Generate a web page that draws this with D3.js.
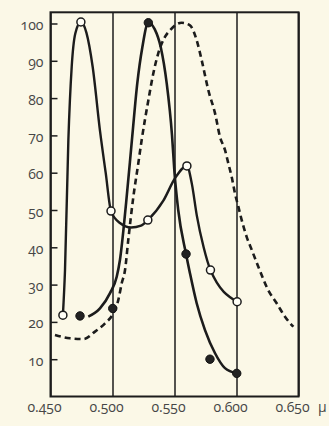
<!DOCTYPE html>
<html>
<head>
<meta charset="utf-8">
<script src="https://cdn.jsdelivr.net/npm/d3@7"></script>
<style>
  html, body { margin: 0; padding: 0; background: #fbf8e7; }
  #chart { position: relative; }
  svg { display: block; position: absolute; left: 0; top: 0; }
  .lab {
    position: absolute;
    font-family: "Open Sans", "Noto Sans", sans-serif;
    font-size: 14px;
    line-height: 1;
    font-variant-numeric: oldstyle-nums;
    font-feature-settings: "onum" 1;
    color: #464646;
    white-space: nowrap;
  }
</style>
</head>
<body>
<div id="chart"></div>
<script>
////////////////////////////////////////////////////////////////
// Data (wavelength in micron, relative value in %)

let xTicks = [0.450, 0.500, 0.550, 0.600, 0.650]
let yTicks = [10, 20, 30, 40, 50, 60, 70, 80, 90, 100]

// open circles and the solid curve drawn through them
let openMarkX = [0.460, 0.4745, 0.4988, 0.5285, 0.560, 0.579, 0.6005]
let openMarkY = [21.8, 100.4, 49.7, 47.3, 61.8, 33.9, 25.4]
let openCurveX = [0.460, 0.4617, 0.4644, 0.4671, 0.4700, 0.4745, 0.4790, 0.4840, 0.4900,
                  0.4945, 0.4988, 0.5060, 0.5150, 0.5230, 0.5285, 0.5410, 0.5504, 0.5600,
                  0.5640, 0.5680, 0.5735, 0.5790, 0.6005]
let openCurveY = [21.8, 33.9, 68.7, 88.4, 97.3, 100.4, 97.5, 88.4, 71.0,
                  60.0, 49.7, 46.5, 45.3, 45.8, 47.3, 52.5, 58.5, 61.8,
                  57.0, 48.5, 40.0, 33.9, 25.4]

// filled circles and their solid curve
let filledMarkX = [0.4738, 0.5002, 0.5289, 0.5593, 0.5786, 0.6002]
let filledMarkY = [21.6, 23.6, 100.2, 38.2, 10.0, 6.2]
let filledCurveX = [0.4805, 0.4899, 0.4980, 0.5034, 0.5060, 0.5110, 0.5160, 0.5200, 0.5240,
                    0.5289, 0.5340, 0.5390, 0.5437, 0.5480, 0.5500, 0.5530, 0.5593, 0.5625,
                    0.5679, 0.5746, 0.5827, 0.5907, 0.6002]
let filledCurveY = [21.4, 23.6, 27.7, 32.1, 36.6, 52.0, 70.0, 84.0, 93.5,
                    100.2, 98.5, 93.5, 84.0, 70.0, 60.0, 50.0, 38.2, 33.0,
                    25.0, 17.8, 11.6, 7.6, 6.2]

// dashed curve (no markers)
let dashX = [0.4536, 0.4657, 0.4765, 0.4859, 0.4940, 0.5006, 0.5047, 0.5074, 0.5101, 0.5127,
             0.5168, 0.5208, 0.5235, 0.5289, 0.5329, 0.5369, 0.5423, 0.5464, 0.5558, 0.5625,
             0.5679, 0.5719, 0.5773, 0.5827, 0.5867, 0.5907, 0.5934, 0.5961, 0.5988, 0.6015,
             0.6042, 0.6082, 0.6123, 0.6176, 0.6256, 0.6324, 0.6391, 0.6458]
let dashY = [16.5, 15.6, 15.4, 17.4, 19.6, 22.3, 25.9, 30.3, 33.9, 41.9,
             53.5, 62.5, 68.7, 79.4, 86.6, 92.0, 96.4, 98.2, 100.2, 99.5,
             95.5, 90.2, 82.1, 75.9, 69.6, 66.1, 62.5, 58.9, 54.4, 50.9,
             47.3, 42.8, 39.3, 34.8, 28.5, 25.0, 21.4, 18.7]

////////////////////////////////////////////////////////////////
// Setup

let W = 329, H = 426
let wrap = d3.select("#chart")
  .style("width", W + "px")
  .style("height", H + "px")

let svg = wrap.append("svg")
  .attr("width", W)
  .attr("height", H)

let fLeft = 50.5, fRight = 298.5, fTop = 12.3, fBottom = 396.5
let yTop = 103

let x = d3.scaleLinear().domain([0.450, 0.650]).range([fLeft, fRight])
let y = d3.scaleLinear().domain([0, yTop]).range([fBottom, fTop])

let ink = "#1c1c1c"
let fontSize = 14
let ascent = 0.888 * fontSize   // baseline offset inside a line-height:1 box

//vertical grid lines (labels are drawn as html below, for old-style figures)
let xAxis = d3.axisBottom(x)
  .tickValues(xTicks)
  .tickFormat("")
  .tickSizeInner(-(fBottom - fTop))
  .tickSizeOuter(0)

let gx = svg.append("g")
  .attr("transform", `translate(0,${fBottom})`)
  .call(xAxis)
gx.select(".domain").remove()
gx.selectAll("line").attr("stroke", ink).attr("stroke-width", 1.5)

//left ticks, inside the frame
let yAxis = d3.axisLeft(y)
  .tickValues(yTicks)
  .tickFormat("")
  .tickSizeInner(-7)
  .tickSizeOuter(0)

let gy = svg.append("g")
  .attr("transform", `translate(${fLeft},0)`)
  .call(yAxis)
gy.select(".domain").remove()
gy.selectAll("line").attr("stroke", ink).attr("stroke-width", 1.5)

//frame
svg.append("rect")
  .attr("x", fLeft)
  .attr("y", fTop)
  .attr("width", fRight - fLeft)
  .attr("height", fBottom - fTop)
  .attr("fill", "none")
  .attr("stroke", ink)
  .attr("stroke-width", 2)

////////////////////////////////////////////////////////////////
// Tick labels

let fmt = d3.format(".3f")

wrap.selectAll("div.ylab")
  .data(yTicks)
  .enter()
  .append("div")
  .attr("class", "lab ylab")
  .style("right", (W - (fLeft - 7)) + "px")
  .style("top", d => (y(d) + 7 - ascent) + "px")
  .text(d => d)

wrap.selectAll("div.xlab")
  .data(xTicks)
  .enter()
  .append("div")
  .attr("class", "lab xlab")
  .style("left", d => (x(d) - 6) + "px")
  .style("top", (fBottom + 15.5 - ascent) + "px")
  .style("transform", "translateX(-50%)")
  .text(d => fmt(d))

wrap.append("div")
  .attr("class", "lab")
  .style("left", (x(0.650) + 19.5) + "px")
  .style("top", (fBottom + 15.5 - ascent) + "px")
  .text("μ")

////////////////////////////////////////////////////////////////
// Curves

let line = d3.line()
  .x(d => x(d[0]))
  .y(d => y(d[1]))
  .curve(d3.curveMonotoneX)

svg.append("path")
  .datum(d3.zip(dashX, dashY))
  .attr("d", line)
  .attr("fill", "none")
  .attr("stroke", ink)
  .attr("stroke-width", 2.6)
  .attr("stroke-dasharray", "6,4")

svg.append("path")
  .datum(d3.zip(openCurveX, openCurveY))
  .attr("d", line)
  .attr("fill", "none")
  .attr("stroke", ink)
  .attr("stroke-width", 2.4)

svg.append("path")
  .datum(d3.zip(filledCurveX, filledCurveY))
  .attr("d", line)
  .attr("fill", "none")
  .attr("stroke", ink)
  .attr("stroke-width", 2.6)

////////////////////////////////////////////////////////////////
// Markers

svg.append("g")
  .selectAll("circle")
  .data(d3.zip(filledMarkX, filledMarkY))
  .enter()
  .append("circle")
  .attr("cx", d => x(d[0]))
  .attr("cy", d => y(d[1]))
  .attr("r", 4.2)
  .attr("fill", "#222")
  .attr("stroke", "#111")
  .attr("stroke-width", 1)

svg.append("g")
  .selectAll("circle")
  .data(d3.zip(openMarkX, openMarkY))
  .enter()
  .append("circle")
  .attr("cx", d => x(d[0]))
  .attr("cy", d => y(d[1]))
  .attr("r", 4)
  .attr("fill", "#fffef6")
  .attr("stroke", ink)
  .attr("stroke-width", 1.5)
</script>
</body>
</html>
